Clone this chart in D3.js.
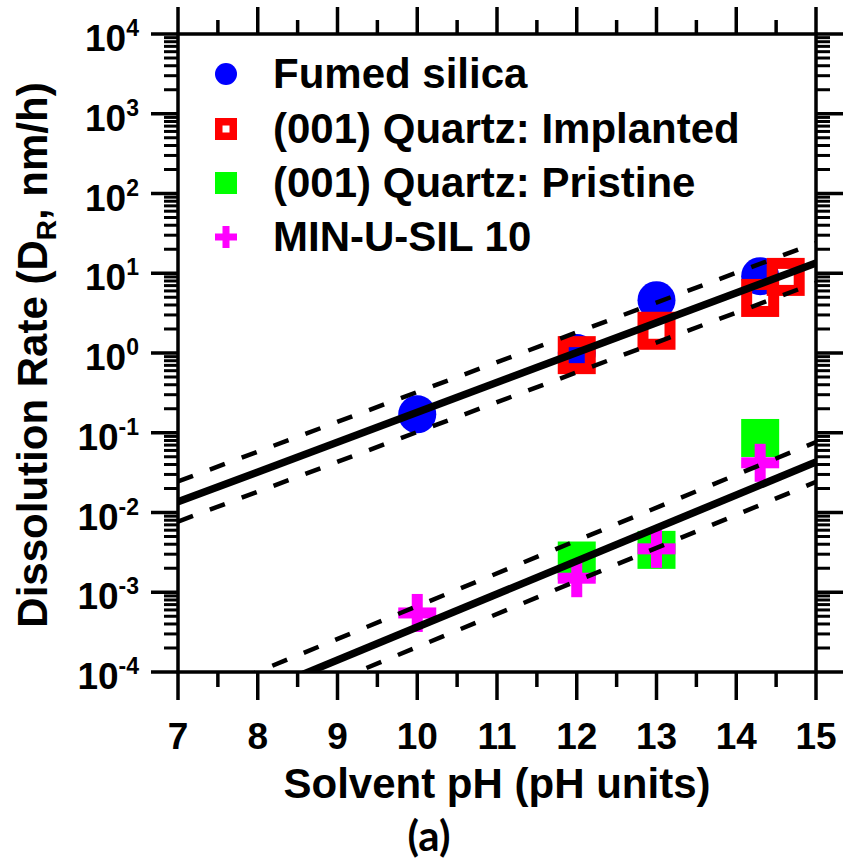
<!DOCTYPE html>
<html><head><meta charset="utf-8">
<script src="https://cdn.jsdelivr.net/npm/d3@7"></script>
<style>
html,body{margin:0;padding:0;background:#fff;}
svg text{font-family:"Liberation Sans",Arial,sans-serif;font-weight:bold;fill:#000;}
</style></head>
<body>
<svg id="chart" width="844" height="862"></svg>
<script>
// ---- data ----
const seriesNames = ["Fumed silica", "(001) Quartz: Implanted", "(001) Quartz: Pristine", "MIN-U-SIL 10"];
const fumedPH = [10, 12, 13, 14.3];
const fumedRate = [0.17, 1.0, 4.6, 9.2];
const implantedPH = [12, 13, 14.3, 14.62];
const implantedRate = [0.94, 1.9, 4.9, 9.0];
const pristinePH = [12, 13, 14.3];
const pristineRate = [0.0025, 0.0034, 0.086];
const minusilPH = [10, 12, 13, 14.3];
const minusilRate = [0.00055, 0.0015, 0.0035, 0.042];
// fit lines and 95% bands (endpoints at pH 7 and 15)
const linePH = [7, 15];
const upperFit = [0.0136, 13.4];
const upperBandHi = [0.0245, 24];
const upperBandLo = [0.0077, 7.6];
const lowerFit = [2.1e-5, 0.043];
const lowerBandHi = [3.9e-5, 0.0765];
const lowerBandLo = [1.18e-5, 0.0242];
const xTicks = [7, 8, 9, 10, 11, 12, 13, 14, 15];
const yExponents = [-4, -3, -2, -1, 0, 1, 2, 3, 4];

// ---- layout ----
const L = 178, R = 816, T = 34, B = 672;
const svg = d3.select("#chart");
const x = d3.scaleLinear().domain([7, 15]).range([L, R]);
const y = d3.scaleLog().domain([1e-4, 1e4]).range([B, T]);

const minorX = d3.range(7.5, 15, 1);
const minorY = [];
yExponents.slice(0, -1).forEach(e => { for (let k = 2; k <= 9; k++) minorY.push(k * Math.pow(10, e)); });
const majorY = yExponents.map(e => Math.pow(10, e));

svg.append("clipPath").attr("id", "clip")
  .append("rect").attr("x", L).attr("y", T).attr("width", R - L).attr("height", B - T);

// ---- markers ----
const plot = svg.append("g");
const C = { blue: "#0000ff", red: "#ff0000", green: "#00ff00", mag: "#ff00ff" };
const MS = 38; // marker outer size
function circle(g, cx, cy, r, col) { g.append("circle").attr("cx", cx).attr("cy", cy).attr("r", r).attr("fill", col); }
function openSq(g, cx, cy, size, sw, col) {
  const s = size - sw;
  g.append("rect").attr("x", cx - s / 2).attr("y", cy - s / 2).attr("width", s).attr("height", s)
    .attr("fill", "none").attr("stroke", col).attr("stroke-width", sw);
}
function fillSq(g, cx, cy, size, col) {
  g.append("rect").attr("x", cx - size / 2).attr("y", cy - size / 2).attr("width", size).attr("height", size).attr("fill", col);
}
function plus(g, cx, cy, size, th, col) {
  g.append("rect").attr("x", cx - size / 2).attr("y", cy - th / 2).attr("width", size).attr("height", th).attr("fill", col);
  g.append("rect").attr("x", cx - th / 2).attr("y", cy - size / 2).attr("width", th).attr("height", size).attr("fill", col);
}
fumedPH.forEach((p, i) => circle(plot, x(p), y(fumedRate[i]), MS / 2, C.blue));
implantedPH.forEach((p, i) => openSq(plot, x(p), y(implantedRate[i]), MS, 11, C.red));
pristinePH.forEach((p, i) => fillSq(plot, x(p), y(pristineRate[i]), MS, C.green));
minusilPH.forEach((p, i) => plus(plot, x(p), y(minusilRate[i]), MS, 11, C.mag));

// ---- fit lines ----
const lines = svg.append("g").attr("clip-path", "url(#clip)");
const lg = d3.line().x(d => x(d[0])).y(d => y(d[1]));
function drawLine(vals, dashed) {
  lines.append("path").datum(linePH.map((p, i) => [p, vals[i]])).attr("d", lg)
    .attr("fill", "none").attr("stroke", "#000")
    .attr("stroke-width", dashed ? 4.5 : 7.5)
    .attr("stroke-dasharray", dashed ? "16 18" : null);
}
drawLine(upperFit, false); drawLine(upperBandHi, true); drawLine(upperBandLo, true);
drawLine(lowerFit, false); drawLine(lowerBandHi, true); drawLine(lowerBandLo, true);

// ---- axes ----
const ax = svg.append("g").attr("stroke", "#000").attr("stroke-width", 3.5).attr("fill", "none");
ax.append("rect").attr("x", L).attr("y", T).attr("width", R - L).attr("height", B - T);
const MAJ = 27, MIN = 14;
xTicks.forEach(v => {
  ax.append("line").attr("x1", x(v)).attr("x2", x(v)).attr("y1", B).attr("y2", B + MAJ + 1);
  ax.append("line").attr("x1", x(v)).attr("x2", x(v)).attr("y1", T).attr("y2", T - MAJ);
});
minorX.forEach(v => {
  ax.append("line").attr("x1", x(v)).attr("x2", x(v)).attr("y1", B).attr("y2", B + MIN + 1);
  ax.append("line").attr("x1", x(v)).attr("x2", x(v)).attr("y1", T).attr("y2", T - MIN);
});
majorY.forEach(v => {
  ax.append("line").attr("x1", L).attr("x2", L - MAJ).attr("y1", y(v)).attr("y2", y(v));
  ax.append("line").attr("x1", R).attr("x2", R + MAJ).attr("y1", y(v)).attr("y2", y(v));
});
minorY.forEach(v => {
  ax.append("line").attr("x1", L).attr("x2", L - MIN).attr("y1", y(v)).attr("y2", y(v)).attr("stroke-width", 3);
  ax.append("line").attr("x1", R).attr("x2", R + MIN).attr("y1", y(v)).attr("y2", y(v)).attr("stroke-width", 3);
});

// tick labels
svg.append("g").selectAll("text").data(xTicks).join("text")
  .attr("x", d => x(d)).attr("y", 749).attr("text-anchor", "middle")
  .attr("font-size", 37).text(d => d);
const yl = svg.append("g").selectAll("text").data(yExponents).join("text")
  .attr("x", 139).attr("y", d => y(Math.pow(10, d)) + 17).attr("text-anchor", "end").attr("font-size", 37);
yl.append("tspan").text("10");
yl.append("tspan").attr("font-size", 23).attr("dy", -15).text(d => d);

// axis titles
svg.append("text").attr("x", 497).attr("y", 798).attr("text-anchor", "middle").attr("font-size", 42)
  .text("Solvent pH (pH units)");
const yt = svg.append("text").attr("transform", "translate(47,355) rotate(-90)")
  .attr("text-anchor", "middle").attr("font-size", 42);
yt.append("tspan").text("Dissolution Rate (D");
yt.append("tspan").attr("font-size", 28).attr("dy", 9).text("R");
yt.append("tspan").attr("dy", -9).text(", nm/h)");

svg.append("text").attr("x", 429).attr("y", 851).attr("text-anchor", "middle")
  .attr("font-size", 42).style("font-family", "Lato, 'Open Sans', sans-serif").style("font-weight", "bold")
  .text("(a)");

// ---- legend ----
const legY = [74, 129, 183, 237];
const lgx = 226;
const leg = svg.append("g");
circle(leg, lgx, legY[0], 11, C.blue);
openSq(leg, lgx, legY[1], 22, 7.5, C.red);
fillSq(leg, lgx, legY[2], 22, C.green);
plus(leg, lgx, legY[3], 22, 7, C.mag);
leg.selectAll("text").data(seriesNames).join("text")
  .attr("x", 273).attr("y", (d, i) => legY[i] + 14).attr("font-size", 42).text(d => d);
</script>
</body></html>
